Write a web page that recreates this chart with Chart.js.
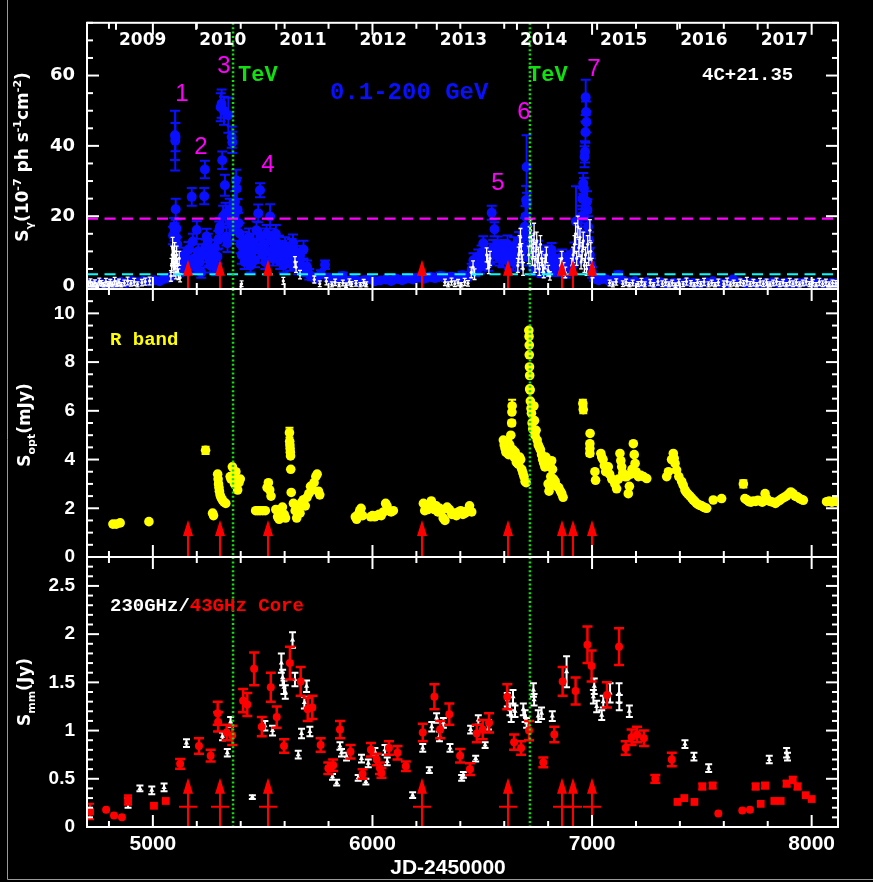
<!DOCTYPE html>
<html>
<head>
<meta charset="utf-8">
<script src="https://cdn.jsdelivr.net/npm/chart.js@4.4.1/dist/chart.umd.min.js"></script>
<style>
  html, body { margin:0; padding:0; background:#000; }
  #fig { position:relative; width:873px; height:882px; background:#000; overflow:hidden; }
  #fig canvas { position:absolute; left:0; top:0; }
</style>
</head>
<body>
<div id="fig">
  <canvas id="pGamma" width="873" height="882"></canvas>
  <canvas id="pOpt" width="873" height="882"></canvas>
  <canvas id="pMm" width="873" height="882"></canvas>
</div>
<script>
// ---------- data (JD-2450000, value, error) ----------
const xTicks = [5000, 6000, 7000, 8000];
const gammaTicks = [0, 20, 40, 60];
const optTicks = [0, 2, 4, 6, 8, 10];
const mmTicks = [0, 0.5, 1, 1.5, 2, 2.5];

const years = ['2009','2010','2011','2012','2013','2014','2015','2016','2017'];
const yearJD = [4832, 5197, 5562, 5927, 6293, 6658, 7023, 7388, 7754];
const flareJD = [5159, 5306, 5526, 6227, 6616, 6864, 6912, 7001];
const tevJD = [5365, 6717];
const gammaLevels = [19.3, 3.5];

const gammaBlue = [
  [4705,0.8,0.4],[4730,0.6,0.4],[4755,1.0,0.5],[4780,0.7,0.4],[4805,1.1,0.5],[4830,0.9,0.4],[4855,1.3,0.5],[4880,1.0,0.5],
  [4905,1.5,0.5],[4930,1.2,0.5],[4955,1.6,0.6],[4980,1.4,0.5],[5005,1.8,0.6],[5030,1.5,0.6],[5055,2.2,0.7],[5075,2.5,0.8],
  [5092,14.5,2.5],[5096,17,2.5],[5099,15.5,2.5],[5101,43,7],[5102,41.5,8.5],[5103,42.5,4],[5104,22,3],[5106,14,2.5],
  [5108,16.5,2.5],[5111,12,2],[5115,6,2],[5120,4.5,1.5],
  [5130,7,2],[5140,9,2],[5148,5,1.8],[5155,8,2],[5162,10.5,2.2],[5170,6,2],[5177,25.5,2.5],[5182,12.8,2.2],[5188,8,2],
  [5195,5.5,1.8],[5200,16.1,2.5],[5207,10,2],[5213,7,2],[5220,4,1.5],[5227,9,2],[5234,25.7,2.3],[5237,33.3,2.5],[5240,11.4,2],
  [5245,14.2,2.2],[5250,13,2],[5256,8,2],[5262,6,2],[5268,9.5,2],[5275,7.5,2],[5282,11,2.2],[5288,5,1.8],[5294,8.5,2],
  [5298,13.3,2.5],[5302,16,2.5],[5306,17,2.5],[5309,51,4],[5313,52,4],[5316,35.9,2.5],[5320,20,3],[5324,50,4],[5328,28.8,3],
  [5331,20.8,3],[5335,14.2,2.5],[5340,12.3,2.5],[5344,48.7,5],[5350,22,3],[5355,18,3],[5359,42.5,3],[5362,41,3],[5366,16,3],
  [5370,20,3],[5374,24.1,3],[5379,30.2,3],[5382,27.9,3],[5386,21.8,3],[5390,18,3],[5395,15.1,3],[5400,12,2.5],
  [5405,9,2.5],[5412,13,2.5],[5418,7,2],[5425,11,2.5],[5432,8.5,2.2],[5438,14,2.5],[5445,6,2],[5452,10,2.5],[5458,12.5,2.5],
  [5465,7.5,2],[5472,16,2.5],[5480,20.8,2.5],[5484,11,2.5],[5488,27.4,2],[5493,14,2.5],[5498,9,2.2],[5505,12,2.5],[5512,7,2],
  [5518,15,2.5],[5525,10,2.2],[5534,19.9,3.5],[5540,13,2.5],[5547,8,2],[5553,11,2.5],[5560,15,2.5],[5567,9,2.2],[5574,12,2.5],
  [5580,7,2],[5588,10.5,2.5],[5595,6,2],[5602,11.5,2.5],[5610,8,2.2],[5618,9.5,2.5],[5625,6.5,2],[5632,11,2.5],[5638,12.3,2.5],
  [5644,10.4,2.5],[5650,7,2],[5655,8.5,2.2],[5662,5.5,2],[5670,9,2.5],[5678,6,2],[5686,10.5,2.5],[5694,4.8,1.8],[5702,5.6,1.8],
  [5712,3.5,1.5],[5725,2.8,1],[5745,2.2,0.9],[5765,3.5,1.1],[5784,6.2,1.2],[5800,2.5,0.9],[5820,1.8,0.8],[5845,2.2,0.9],
  [5865,3.0,1],[5890,1.6,0.7],[5915,2.0,0.8],[5935,1.4,0.6],[5960,1.8,0.7],[5985,2.1,0.8],[6010,1.5,0.6],[6035,1.7,0.7],
  [6060,2.0,0.8],[6085,1.6,0.7],[6110,2.2,0.8],[6135,1.8,0.7],[6160,2.4,0.9],[6185,2.0,0.8],[6210,2.6,0.9],[6235,2.2,0.8],
  [6260,2.8,0.9],[6285,2.4,0.9],[6310,3.0,1],[6335,2.5,0.9],[6360,2.8,1],[6385,2.2,0.9],[6410,3.2,1],[6430,2.6,0.9],
  [6452,5,1.5],[6460,7.5,2],[6468,4.5,1.5],[6475,6.5,1.8],[6482,8.5,2],[6490,5.5,1.8],[6497,9.7,2],[6505,12.3,2],[6512,7,2],
  [6520,10,2.2],[6528,6.5,2],[6535,8.5,2],[6543,21,2],[6550,11,2.2],[6556,16.3,2],[6563,9,2],[6570,12,2.2],[6578,8,2],
  [6585,10.5,2.2],[6592,7.5,2],[6600,11,2.2],[6608,9,2],[6615,12,2.5],[6622,7,2],[6630,10,2.2],[6638,8.5,2],[6645,11.5,2.5],
  [6652,6.5,2],[6660,9,2.2],[6668,13,2.5],[6675,8,2],[6682,10,2.5],[6690,14.2,2.5],[6694,17,2.5],[6697,19.9,3],[6700,24.6,4],
  [6702,34,9],[6704,23.7,3],[6708,15,2.5],[6712,11,2.5],[6718,8,2],[6725,12,2.5],[6732,5,1.8],[6740,9,2.2],[6748,6.5,2],
  [6755,10.5,2.5],[6763,7,2],[6770,4.5,1.8],[6778,8.5,2.2],[6786,6,2],[6795,9.5,2.2],[6803,5.5,1.8],[6810,7.5,2],[6816,10.4,2],
  [6824,6,2],[6832,8,2],[6840,4.5,1.5],[6848,7,2],[6856,5,1.8],[6864,8.5,2],[6872,6,2],[6880,4,1.5],[6888,7.5,2],[6896,5,1.8],
  [6905,8,2],[6912,6,2],[6920,10,2.5],[6927,18.5,10],[6935,9,2.5],[6942,12,2.5],[6948,15,3],[6952,20,3],[6956,25,3],
  [6960,29.3,3],[6963,27.9,3],[6966,36.9,3],[6968,38.3,3],[6970,43.9,3],[6971,53.8,5],[6973,49.6,3],[6975,46.8,3],
  [6977,24.1,3],[6979,21.8,3],[6982,17,3],[6986,13,2.5],[6990,9,2],[6995,6,2],[7000,4,1.5],
  [7010,2.5,0.9],[7030,1.8,0.7],[7055,2.2,0.8],[7080,1.5,0.6],[7100,2.0,0.7],[7120,3.3,1],[7145,1.6,0.6],[7170,1.2,0.5],
  [7195,1.5,0.6],[7220,1.0,0.5],[7250,1.3,0.5],[7280,0.9,0.4],[7310,1.2,0.5],[7340,0.8,0.4],[7370,1.1,0.5],[7400,0.9,0.4],
  [7430,1.3,0.5],[7460,1.0,0.4],[7490,0.8,0.4],[7520,1.2,0.5],[7550,1.5,0.6],[7580,1.1,0.5],[7610,0.9,0.4],[7641,2.0,0.6],
  [7670,1.3,0.5],[7700,0.9,0.4],[7730,1.1,0.5],[7760,0.8,0.4],[7790,1.0,0.4],[7820,1.2,0.5],[7850,0.9,0.4],[7880,1.1,0.5],
  [7910,0.8,0.4],[7940,1.0,0.4],[7970,1.2,0.5],[8000,0.9,0.4],[8030,1.1,0.5],[8060,0.8,0.4],[8090,1.0,0.4],[8115,0.9,0.4]
];

const gammaWhite = [
  [4706,0.8,0.8],[4716,1.2,1],[4726,0.6,0.7],[4736,1.0,0.9],[4746,0.4,0.6],[4756,1.4,1],[4766,0.9,0.8],[4776,0.5,0.6],
  [4786,1.3,1],[4796,0.7,0.7],[4806,1.1,0.9],[4816,0.6,0.7],[4826,1.5,1.1],[4836,0.8,0.8],[4846,1.2,0.9],[4856,0.5,0.6],
  [4870,1.0,0.8],[4885,1.6,1.1],[4900,0.9,0.8],[4915,1.3,1],[4930,0.6,0.7],[4950,1.1,0.9],[4965,1.4,1],[4985,1.6,1.1],
  [5082,3,1.5],[5085,6,2],[5088,9,2.5],[5090,11,3],[5093,8,2.5],[5096,5,2],[5099,10,2.5],[5102,7,2],[5105,4,1.8],
  [5108,9,2.5],[5112,6,2],[5116,3.5,1.5],[5120,8,2],[5124,2.5,1.2],
  [5404,0.8,0.8],[5594,1.6,1],[5647,7,1.5],[5652,5.5,1.5],[5670,3.4,1.2],[5735,2.0,1],[5760,0.8,0.8],[5790,1.5,1],
  [5815,0.6,0.7],[5830,1.2,0.9],[5848,0.5,0.6],[5865,1.0,0.8],[5880,0.4,0.6],[5895,1.3,0.9],[5905,0.7,0.7],[5925,0.9,0.8],
  [5945,0.5,0.6],[5960,1.1,0.9],[5972,0.6,0.7],[6330,1.2,0.9],[6345,0.6,0.7],[6360,1.4,1],[6375,0.8,0.8],[6390,1.1,0.9],
  [6405,0.5,0.6],[6420,1.3,1],[6435,0.9,0.8],[6450,4,1.5],[6458,5.5,1.8],[6465,3.5,1.5],[6520,9,2],[6525,7,2],[6530,5.5,1.8],
  [6535,8,2],[6662,6,2],[6666,9,2.2],[6670,12,2.5],[6674,14,2.5],[6678,10,2.2],[6682,7,2],[6686,5,1.8],
  [6712,9,2.5],[6716,14,3],[6720,16,3],[6724,12,2.5],[6728,8,2],[6732,11,2.5],[6736,15,3],[6740,6,2],[6744,10,2.5],
  [6748,13,2.5],[6752,7,2],[6756,9,2.2],[6760,5,1.8],[6765,12,2.5],[6770,8,2],[6775,6,2],[6780,4,1.5],[6786,7,2],
  [6792,9,2.2],[6800,4.5,1.5],[6808,3,1.2],[6856,6,2],[6862,8,2],[6870,5,1.8],[6878,4,1.5],
  [6908,6,2],[6914,9,2.2],[6920,12,2.5],[6925,15,3],[6930,8,2],[6935,17,3],[6940,11,2.5],[6945,14,2.5],[6950,7,2],
  [6955,10,2.5],[6960,13,2.5],[6965,6,2],[6970,9,2.2],[6975,5,1.8],[6980,12,2.5],[6985,8,2],[6990,16,3],[6994,10,2.5],
  [6998,6,2],[7002,4,1.5],
  [7080,1.0,0.8],[7095,0.6,0.7],[7110,1.3,0.9],[7140,0.8,0.8],[7155,1.2,0.9],[7170,0.5,0.6],[7185,1.0,0.8],[7210,0.7,0.7],
  [7225,1.3,1],[7240,0.6,0.7],[7265,1.1,0.9],[7280,0.5,0.6],[7300,1.4,1],[7320,0.8,0.8],[7335,1.2,0.9],[7350,0.6,0.7],
  [7365,1.0,0.8],[7380,0.4,0.6],[7395,1.2,0.9],[7415,0.7,0.7],[7430,1.4,1],[7450,0.9,0.8],[7465,0.5,0.6],[7480,1.1,0.9],
  [7495,0.7,0.7],[7510,1.3,1],[7530,0.6,0.7],[7545,1.0,0.8],[7560,0.5,0.6],[7575,1.2,0.9],[7600,0.8,0.8],[7615,1.4,1],
  [7630,0.6,0.7],[7645,1.0,0.8],[7660,0.5,0.6],[7675,1.2,0.9],[7690,0.9,0.8],[7705,1.5,1.1],[7720,0.7,0.7],[7735,1.1,0.9],
  [7750,0.5,0.6],[7765,1.3,1],[7780,0.8,0.8],[7795,1.2,0.9],[7810,0.6,0.7],[7825,1.0,0.8],[7840,1.4,1],[7855,0.7,0.7],
  [7870,1.1,0.9],[7885,0.5,0.6],[7900,1.3,1],[7915,0.8,0.8],[7930,1.2,0.9],[7945,0.6,0.7],[7960,1.0,0.8],[7975,1.4,1],
  [7990,0.7,0.7],[8005,1.1,0.9],[8020,0.5,0.6],[8035,1.3,1],[8050,0.8,0.8],[8065,1.2,0.9],[8080,0.6,0.7],[8095,1.0,0.8],
  [8110,0.9,0.8]
];

const optR = [
  [4818,1.35,0],[4833,1.35,0],[4851,1.4,0],[4982,1.45,0],[5240,4.38,0.15],[5272,1.8,0],[5276,1.7,0],
  [5295,3.4,0],[5297,3.2,0],[5299,3.0,0],[5301,2.85,0],[5303,2.7,0],[5306,2.55,0],[5310,2.45,0],[5316,2.35,0],[5324,2.25,0],
  [5332,2.2,0],[5352,3.3,0],[5356,3.2,0],[5362,3.7,0],[5366,3.35,0],[5372,3.0,0],[5378,3.5,0],[5382,3.15,0],[5386,2.75,0],
  [5392,3.05,0],[5398,3.2,0],[5468,1.9,0],[5478,1.9,0],[5488,1.9,0],[5500,1.9,0],[5512,1.9,0],[5520,2.85,0],[5526,3.05,0],
  [5532,2.75,0],[5538,2.5,0],[5560,1.95,0],[5568,1.65,0],[5575,1.55,0],[5582,1.85,0],[5590,2.05,0],[5598,1.75,0],[5604,1.6,0],
  [5622,5.1,0.2],[5623,4.75,0],[5624,4.6,0],[5625,4.45,0],[5626,4.3,0],[5627,4.15,0],[5628,3.6,0],[5630,2.65,0],
  [5640,2.2,0],[5648,1.9,0],[5655,1.6,0],[5662,2.0,0],[5670,1.8,0],[5678,2.25,0],[5686,2.35,0],[5694,2.1,0],[5702,2.45,0],
  [5710,2.6,0],[5718,2.9,0],[5726,2.75,0],[5734,3.05,0],[5742,3.3,0],[5748,3.4,0],[5754,2.7,0],[5760,2.55,0],
  [5922,1.65,0],[5928,1.55,0],[5935,1.75,0],[5942,1.9,0],[5948,2.0,0],[5955,1.7,0],[5992,1.65,0],[6000,1.7,0],[6010,1.65,0],
  [6020,1.7,0],[6030,1.75,0],[6040,1.7,0],[6050,1.85,0],[6060,2.2,0],[6066,2.1,0],[6074,1.9,0],[6085,1.85,0],[6095,1.9,0],
  [6232,2.2,0],[6238,1.9,0],[6245,2.05,0],[6252,1.95,0],[6260,2.1,0],[6268,2.3,0],[6275,2.15,0],[6282,1.95,0],[6290,2.1,0],
  [6298,1.85,0],[6306,2.0,0],[6315,1.9,0],[6322,1.6,0],[6330,1.5,0],[6340,2.05,0],[6350,1.95,0],[6362,1.75,0],[6372,1.8,0],
  [6382,1.7,0],[6392,1.85,0],[6402,1.9,0],[6412,1.75,0],[6422,1.8,0],[6432,1.9,0],[6442,2.1,0],[6452,1.85,0],
  [6596,4.8,0],[6600,4.6,0],[6604,4.45,0],[6608,4.3,0],[6612,4.5,0],[6616,4.75,0],[6620,4.2,0],[6625,4.6,0],[6630,5.0,0],
  [6634,5.5,0.1],[6635,5.95,0],[6636,6.2,0.25],[6640,4.4,0],[6645,4.1,0],[6650,4.3,0],[6655,3.9,0],[6660,3.85,0],[6665,3.8,0],
  [6670,4.1,0],[6675,4.0,0],[6680,3.6,0],[6685,3.45,0],[6690,3.3,0],[6695,3.1,0],[6700,3.05,0],
  [6712,9.3,0],[6713,9.05,0],[6714,8.7,0],[6714,8.3,0],[6715,7.8,0],[6716,7.45,0],[6716,6.9,0],[6718,6.85,0],[6719,6.4,0],
  [6722,6.1,0],[6724,5.9,0],[6727,5.5,0],[6730,5.25,0],[6735,6.2,0],[6738,5.6,0],[6740,5.0,0],[6745,5.2,0],[6750,4.8,0],
  [6755,4.6,0],[6760,4.5,0],[6765,4.4,0],[6770,4.2,0],[6775,4.0,0],[6780,3.85,0],[6785,3.7,0],[6790,4.1,0],[6795,3.9,0],
  [6800,3.0,0],[6804,2.7,0],[6808,2.9,0],[6812,3.3,0],[6816,3.95,0],[6820,3.6,0],[6825,3.2,0],[6832,3.1,0],[6840,2.9,0],
  [6848,2.85,0],[6856,2.7,0],[6862,2.6,0],[6868,2.45,0],
  [6958,6.3,0.15],[6960,6.05,0.15],[6991,5.07,0],[6990,4.65,0],[6990,4.45,0],[6990,4.25,0.1],
  [7013,3.5,0],[7016,3.15,0],[7040,4.25,0],[7044,4.1,0],[7050,4.0,0],[7056,3.75,0],[7062,3.5,0],[7068,3.6,0],[7074,3.7,0],
  [7080,3.4,0],[7090,3.2,0],[7097,3.16,0],[7104,3.0,0],[7112,2.8,0],[7120,3.2,0],[7127,4.25,0],[7131,3.95,0],[7135,3.7,0],
  [7140,3.45,0],[7150,3.3,0],[7158,3.3,0],[7165,2.6,0],[7170,2.9,0],[7176,3.4,0],[7182,3.6,0],[7188,4.65,0],[7192,4.2,0],
  [7196,3.84,0],[7200,3.5,0],[7205,3.4,0],[7211,3.3,0],[7222,3.35,0],[7234,3.3,0],[7249,3.22,0],
  [7340,3.3,0],[7348,3.5,0],[7362,4.0,0],[7370,4.25,0],[7374,4.05,0],[7378,3.84,0],[7385,3.57,0],[7395,3.3,0],[7408,3.1,0],
  [7415,2.95,0],[7423,2.75,0],[7430,2.65,0],[7438,2.57,0],[7446,2.5,0],[7454,2.42,0],[7461,2.34,0],[7468,2.28,0],[7476,2.2,0],
  [7484,2.15,0],[7492,2.12,0],[7499,2.1,0],[7508,2.05,0],[7515,2.02,0],[7522,2.0,0],[7552,2.34,0],[7590,2.4,0],
  [7689,3.0,0.15],[7696,2.4,0],[7705,2.35,0],[7714,2.27,0],[7724,2.25,0],[7735,2.3,0],[7745,2.28,0],[7755,2.33,0],[7765,2.3,0],
  [7775,2.25,0],[7788,2.6,0],[7795,2.4,0],[7805,2.3,0],[7815,2.27,0],[7825,2.25,0],[7835,2.2,0],[7845,2.27,0],[7855,2.33,0],
  [7865,2.4,0],[7875,2.45,0],[7885,2.5,0],[7895,2.58,0],[7905,2.67,0],[7915,2.6,0],[7925,2.5,0],[7935,2.47,0],[7945,2.4,0],
  [7955,2.36,0],[7962,2.33,0],[8068,2.27,0],[8080,2.3,0],[8092,2.25,0],[8104,2.3,0],[8116,2.27,0]
];

const mm230 = [
  [4887,0.25,0.05],[4941,0.40,0.03],[4995,0.38,0.04],[5051,0.41,0.04],[5153,0.87,0.04],[5317,0.94,0.04],[5339,0.77,0.04],
  [5354,1.09,0.05],[5453,0.31,0.02],[5510,1.05,0.05],[5545,1.0,0.05],[5585,1.70,0.1],[5591,1.55,0.08],[5597,1.45,0.07],
  [5603,1.40,0.07],[5636,1.94,0.08],[5647,1.53,0.07],[5662,0.75,0.04],[5677,0.97,0.05],[5690,1.29,0.06],[5700,1.46,0.06],
  [5715,0.99,0.05],[5818,0.52,0.03],[5837,0.46,0.03],[5852,0.84,0.04],[5859,0.77,0.04],[5882,0.73,0.04],[5935,0.51,0.03],
  [5950,0.71,0.04],[5970,0.47,0.03],[5981,0.66,0.04],[6011,0.78,0.04],[6057,0.80,0.05],[6067,0.68,0.04],[6183,0.33,0.03],
  [6229,0.82,0.04],[6259,0.59,0.03],[6270,1.04,0.05],[6292,1.13,0.05],[6305,0.94,0.05],[6323,1.08,0.05],[6353,0.82,0.04],
  [6406,0.51,0.03],[6414,0.54,0.03],[6447,1.01,0.04],[6470,0.71,0.03],[6482,1.11,0.05],[6513,0.85,0.03],[6528,1.06,0.05],
  [6614,1.32,0.07],[6626,1.22,0.06],[6632,1.15,0.06],[6640,1.35,0.07],[6649,1.20,0.06],[6687,1.22,0.06],[6695,1.15,0.06],
  [6702,1.08,0.05],[6733,1.42,0.07],[6736,1.32,0.06],[6755,1.15,0.06],[6770,1.18,0.06],[6819,1.15,0.05],[6884,1.61,0.16],
  [7006,1.35,0.07],[7010,1.46,0.08],[7021,1.25,0.06],[7044,1.16,0.05],[7051,1.30,0.06],[7082,1.39,0.1],[7123,1.39,0.1],
  [7124,1.29,0.08],[7170,1.20,0.06],[7423,0.86,0.04],[7464,0.73,0.04],[7531,0.61,0.04],[7807,0.70,0.04],[7886,0.77,0.05],
  [7890,0.73,0.04]
];

const core43 = [
  [4787,0.18,0],[4823,0.12,0],[4859,0.10,0],[5124,0.655,0.05],[5210,0.84,0.08],[5263,0.74,0.06],[5295,1.18,0.12],
  [5297,1.09,0.1],[5336,0.98,0.08],[5361,0.95,0.1],[5411,1.31,0.12],[5430,1.27,0.12],[5461,1.64,0.17],[5496,1.04,0.1],
  [5537,1.45,0.15],[5564,1.14,0.11],[5597,0.84,0.07],[5624,1.70,0.17],[5673,1.51,0.15],[5705,1.22,0.12],[5726,1.24,0.12],
  [5764,0.85,0.07],[5799,0.61,0.06],[5821,0.64,0.06],[5852,1.01,0.09],[5900,0.78,0.07],[5955,0.55,0.05],[5993,0.80,0.07],
  [6019,0.70,0.06],[6034,0.61,0.06],[6041,0.56,0.05],[6075,0.82,0.07],[6114,0.77,0.07],[6152,0.63,0.05],[6229,0.98,0.09],
  [6282,1.35,0.13],[6308,1.01,0.09],[6350,1.17,0.11],[6399,0.74,0.07],[6444,0.60,0.06],[6475,0.97,0.09],[6502,1.01,0.1],
  [6531,1.08,0.1],[6614,1.35,0.13],[6645,0.88,0.08],[6677,0.82,0.07],[6713,1.0,0.1],[6778,0.67,0.05],[6828,0.96,0.08],
  [6866,1.51,0.15],[6925,1.41,0.14],[6979,1.89,0.19],[6998,1.67,0.16],[7068,1.37,0.13],[7123,1.87,0.19],[7153,0.82,0.07],
  [7180,0.93,0.08],[7205,0.96,0.08],[7236,0.92,0.08],[7288,0.50,0.04],[7363,0.70,0.07],[7575,0.14,0],[7684,0.17,0],[7719,0.18,0]
];

const core43sq = [
  [4714,0.16,0.08],[4887,0.28,0.05],[5005,0.22,0],[5059,0.27,0],[7389,0.26,0],[7420,0.30,0],[7466,0.26,0],[7502,0.42,0.03],
  [7549,0.43,0.03],[7745,0.42,0.03],[7768,0.24,0],[7788,0.43,0.03],[7830,0.27,0],[7859,0.27,0],[7886,0.45,0.03],
  [7914,0.49,0.03],[7936,0.42,0.03],[7973,0.33,0],[8000,0.29,0]
];

// ---------- drawing helpers ----------
const toPts = a => a.map(p => ({ x: p[0], y: p[1], e: p[2] || 0 }));

function seg(ctx, x1, y1, x2, y2) { ctx.beginPath(); ctx.moveTo(x1, y1); ctx.lineTo(x2, y2); ctx.stroke(); }

function txt(ctx, s, x, y, font, color, align) {
  ctx.font = font; ctx.fillStyle = color; ctx.textAlign = align || 'left'; ctx.textBaseline = 'middle';
  ctx.fillText(s, x, y);
}

// rotated axis title with sub/superscripts
function vTitle(ctx, parts, cx, cy) {
  ctx.save();
  ctx.translate(cx, cy); ctx.rotate(-Math.PI / 2);
  let w = 0;
  parts.forEach(p => { ctx.font = p[1]; w += ctx.measureText(p[0]).width; });
  let x = -w / 2;
  ctx.fillStyle = '#fff'; ctx.textAlign = 'left'; ctx.textBaseline = 'alphabetic';
  parts.forEach(p => { ctx.font = p[1]; ctx.fillText(p[0], x, p[2]); x += ctx.measureText(p[0]).width; });
  ctx.restore();
}

const errBars = {
  id: 'errBars',
  beforeDatasetDraw(chart, args) {
    const d = chart.data.datasets[args.index];
    if (!d.errColor) return;
    const ctx = chart.ctx, ys = chart.scales.y, ca = chart.chartArea, c = d.capW;
    ctx.save();
    ctx.beginPath(); ctx.rect(ca.left, ca.top, ca.right - ca.left, ca.bottom - ca.top); ctx.clip();
    ctx.strokeStyle = d.errColor; ctx.lineWidth = d.errWidth;
    ctx.beginPath();
    args.meta.data.forEach((el, i) => {
      const p = d.data[i];
      if (!p.e) return;
      const t = ys.getPixelForValue(p.y + p.e), b = ys.getPixelForValue(p.y - p.e);
      ctx.moveTo(el.x, t); ctx.lineTo(el.x, b);
      ctx.moveTo(el.x - c, t); ctx.lineTo(el.x + c, t);
      ctx.moveTo(el.x - c, b); ctx.lineTo(el.x + c, b);
    });
    ctx.stroke();
    ctx.restore();
  }
};

function makeDeco(cfg) {
  return {
    id: 'deco',
    afterDatasetsDraw(chart) {
      const ctx = chart.ctx, ca = chart.chartArea, xs = chart.scales.x, ys = chart.scales.y;
      ctx.save();
      // horizontal reference levels
      (cfg.levels || []).forEach((v, i) => {
        const py = ys.getPixelForValue(v);
        ctx.strokeStyle = cfg.levelColors[i]; ctx.lineWidth = 2.2; ctx.setLineDash([11, 6.5]);
        seg(ctx, ca.left, py, ca.right, py);
      });
      // TeV detections
      ctx.strokeStyle = '#10e010'; ctx.lineWidth = 2.5; ctx.setLineDash([2, 2.4]);
      tevJD.forEach(j => { const px = xs.getPixelForValue(j); seg(ctx, px, ca.top, px, ca.bottom); });
      ctx.setLineDash([]);
      // flare arrows
      ctx.strokeStyle = '#ff0000'; ctx.fillStyle = '#ff0000'; ctx.lineWidth = 2;
      const tip = ys.getPixelForValue(cfg.arrowTip);
      flareJD.forEach(j => {
        const px = Math.round(xs.getPixelForValue(j));
        seg(ctx, px, ca.bottom, px, tip + 10);
        ctx.beginPath(); ctx.moveTo(px, tip); ctx.lineTo(px - 5, tip + 16); ctx.lineTo(px + 5, tip + 16); ctx.closePath(); ctx.fill();
        if (cfg.arrowBar != null) {
          const by = ys.getPixelForValue(cfg.arrowBar);
          seg(ctx, px - 9, by, px + 9, by);
        }
      });
      // frame
      ctx.strokeStyle = '#fff'; ctx.lineWidth = 2;
      ctx.strokeRect(ca.left, ca.top, ca.right - ca.left, ca.bottom - ca.top);
      // x ticks (every 200 d, longer every 1000 d)
      for (let k = Math.ceil(4700 / 200); k * 200 <= 8120; k++) {
        const v = k * 200, px = xs.getPixelForValue(v), len = v % 1000 === 0 ? 12 : 6;
        seg(ctx, px, ca.bottom, px, ca.bottom - len);
        seg(ctx, px, ca.top, px, ca.top + len);
      }
      // y ticks
      const n0 = Math.ceil(cfg.yMin / cfg.minor - 1e-9), n1 = Math.floor(cfg.yMax / cfg.minor + 1e-9);
      for (let k = n0; k <= n1; k++) {
        const v = k * cfg.minor, r = v / cfg.major;
        const len = Math.abs(r - Math.round(r)) < 1e-6 ? 12 : 6, py = ys.getPixelForValue(v);
        seg(ctx, ca.left, py, ca.left + len, py);
        seg(ctx, ca.right, py, ca.right - len, py);
      }
      cfg.extra(ctx, chart);
      ctx.restore();
    }
  };
}

function panel(id, cfg) {
  return new Chart(document.getElementById(id), {
    type: 'scatter',
    data: { datasets: cfg.datasets },
    options: {
      responsive: false, animation: false, events: [],
      layout: { padding: { left: 0, right: 35, top: cfg.top, bottom: cfg.bottom } },
      plugins: { legend: { display: false }, tooltip: { enabled: false } },
      scales: {
        x: {
          type: 'linear', min: 4700, max: 8120, display: cfg.showX,
          grid: { display: false, drawTicks: false }, border: { display: false },
          afterBuildTicks: s => { s.ticks = xTicks.map(v => ({ value: v })); },
          afterFit: s => { s.height = cfg.showX ? 55 : 0; },
          ticks: { color: '#fff', padding: 5, font: { family: 'Liberation Sans', size: 21, weight: 'bold' }, callback: v => String(v) }
        },
        y: {
          type: 'linear', min: cfg.yMin, max: cfg.yMax,
          grid: { display: false, drawTicks: false }, border: { display: false },
          afterBuildTicks: s => { s.ticks = cfg.yTicks.map(v => ({ value: v })); },
          afterFit: s => { s.width = 87; },
          ticks: { color: '#fff', padding: 12, font: cfg.yFont, callback: v => String(v) }
        }
      }
    },
    plugins: [errBars, makeDeco(cfg)]
  });
}

const MONO = 'bold 22px "Liberation Mono", monospace';
const TITLE = 'bold 17px "DejaVu Sans"', SUB = 'bold 11px "DejaVu Sans"';

// ---------- gamma-ray panel ----------
panel('pGamma', {
  top: 22, bottom: 593, showX: false, yMin: -0.7, yMax: 75, minor: 5, major: 20, yTicks: gammaTicks,
  yFont: { family: 'DejaVu Sans', size: 18, weight: 'bold' },
  levels: gammaLevels, levelColors: ['#ff00ff', '#00ffff'], arrowTip: 7.6,
  datasets: [
    { data: toPts(gammaWhite), pointRadius: 1.6, pointBorderWidth: 0, backgroundColor: '#fff', borderColor: '#fff',
      errColor: '#fff', errWidth: 1.3, capW: 2 },
    { data: toPts(gammaBlue), pointRadius: 5, pointBorderWidth: 0, backgroundColor: '#0a10ff', borderColor: '#0a10ff',
      errColor: '#0a10ff', errWidth: 2, capW: 5 }
  ],
  extra(ctx, chart) {
    const xs = chart.scales.x, ca = chart.chartArea;
    ctx.strokeStyle = '#fff'; ctx.lineWidth = 2;
    yearJD.forEach((j, i) => {
      const px = xs.getPixelForValue(j);
      seg(ctx, px, ca.top, px, ca.top + 7);
      txt(ctx, years[i], px + 3, 41, 'bold 17px "DejaVu Sans"', '#fff');
    });
    const num = '24px "Liberation Sans"';
    [['1', 182, 94], ['2', 201, 147], ['3', 224, 66], ['4', 268, 165], ['5', 498, 183], ['6', 524, 112], ['7', 594, 69]]
      .forEach(t => txt(ctx, t[0], t[1], t[2], num, '#ff00ff', 'center'));
    txt(ctx, 'TeV', 238, 75, MONO, '#10e010');
    txt(ctx, 'TeV', 528, 75, MONO, '#10e010');
    txt(ctx, '0.1-200 GeV', 330, 93, 'bold 24px "Liberation Mono", monospace', '#0a10ff');
    txt(ctx, '4C+21.35', 702, 75, 'bold 19px "Liberation Mono", monospace', '#fff');
    vTitle(ctx, [['S', TITLE, 6], ['\u03b3', SUB, 11], ['(10', TITLE, 6], ['-7', SUB, -1], [' ph s', TITLE, 6],
      ['-1', SUB, -1], ['cm', TITLE, 6], ['-2', SUB, -1], [')', TITLE, 6]], 22, 157);
  }
});

// ---------- optical panel ----------
panel('pOpt', {
  top: 289, bottom: 325, showX: false, yMin: 0, yMax: 11, minor: 0.5, major: 2, yTicks: optTicks,
  yFont: { family: 'Liberation Sans', size: 19, weight: 'bold' }, arrowTip: 1.52,
  datasets: [
    { data: toPts(optR), pointRadius: 4.8, pointBorderWidth: 0, backgroundColor: '#ffff00', borderColor: '#ffff00',
      errColor: '#ffff00', errWidth: 2, capW: 4 }
  ],
  extra(ctx) {
    txt(ctx, 'R band', 110, 340, 'bold 19px "Liberation Mono", monospace', '#ffff00');
    vTitle(ctx, [['S', TITLE, 6], ['opt', SUB, 11], ['(mJy)', TITLE, 6]], 24, 425);
  }
});

// ---------- mm panel ----------
panel('pMm', {
  top: 557, bottom: 0, showX: true, yMin: 0, yMax: 2.8, minor: 0.1, major: 0.5, yTicks: mmTicks,
  yFont: { family: 'Liberation Sans', size: 19, weight: 'bold' }, arrowTip: 0.51, arrowBar: 0.21,
  datasets: [
    { data: toPts(core43), pointRadius: 4, pointBorderWidth: 0, backgroundColor: '#ff0000', borderColor: '#ff0000',
      errColor: '#ff0000', errWidth: 2.5, capW: 5 },
    { data: toPts(core43sq), pointStyle: 'rect', pointRadius: 5.5, pointBorderWidth: 0, backgroundColor: '#ff0000',
      borderColor: '#ff0000', errColor: '#ff0000', errWidth: 2, capW: 4 },
    { data: toPts(mm230), pointStyle: 'triangle', pointRadius: 3, pointBorderWidth: 0, backgroundColor: '#fff',
      borderColor: '#fff', errColor: '#fff', errWidth: 2, capW: 3.5 }
  ],
  extra(ctx) {
    const f = 'bold 19px "Liberation Mono", monospace';
    ctx.font = f;
    const w = ctx.measureText('230GHz/').width;
    txt(ctx, '230GHz/', 110, 606, f, '#fff');
    txt(ctx, '43GHz Core', 110 + w, 606, f, '#ff0000');
    vTitle(ctx, [['S', TITLE, 6], ['mm', SUB, 11], ['(Jy)', TITLE, 6]], 24, 692);
    txt(ctx, 'JD-2450000', 448, 868, 'bold 21px "Liberation Sans"', '#fff', 'center');
    ctx.strokeStyle = '#9a9a9a'; ctx.lineWidth = 1;
    seg(ctx, 7.5, 0, 7.5, 879.5);
    seg(ctx, 7.5, 879.5, 873, 879.5);
  }
});
</script>
</body>
</html>
